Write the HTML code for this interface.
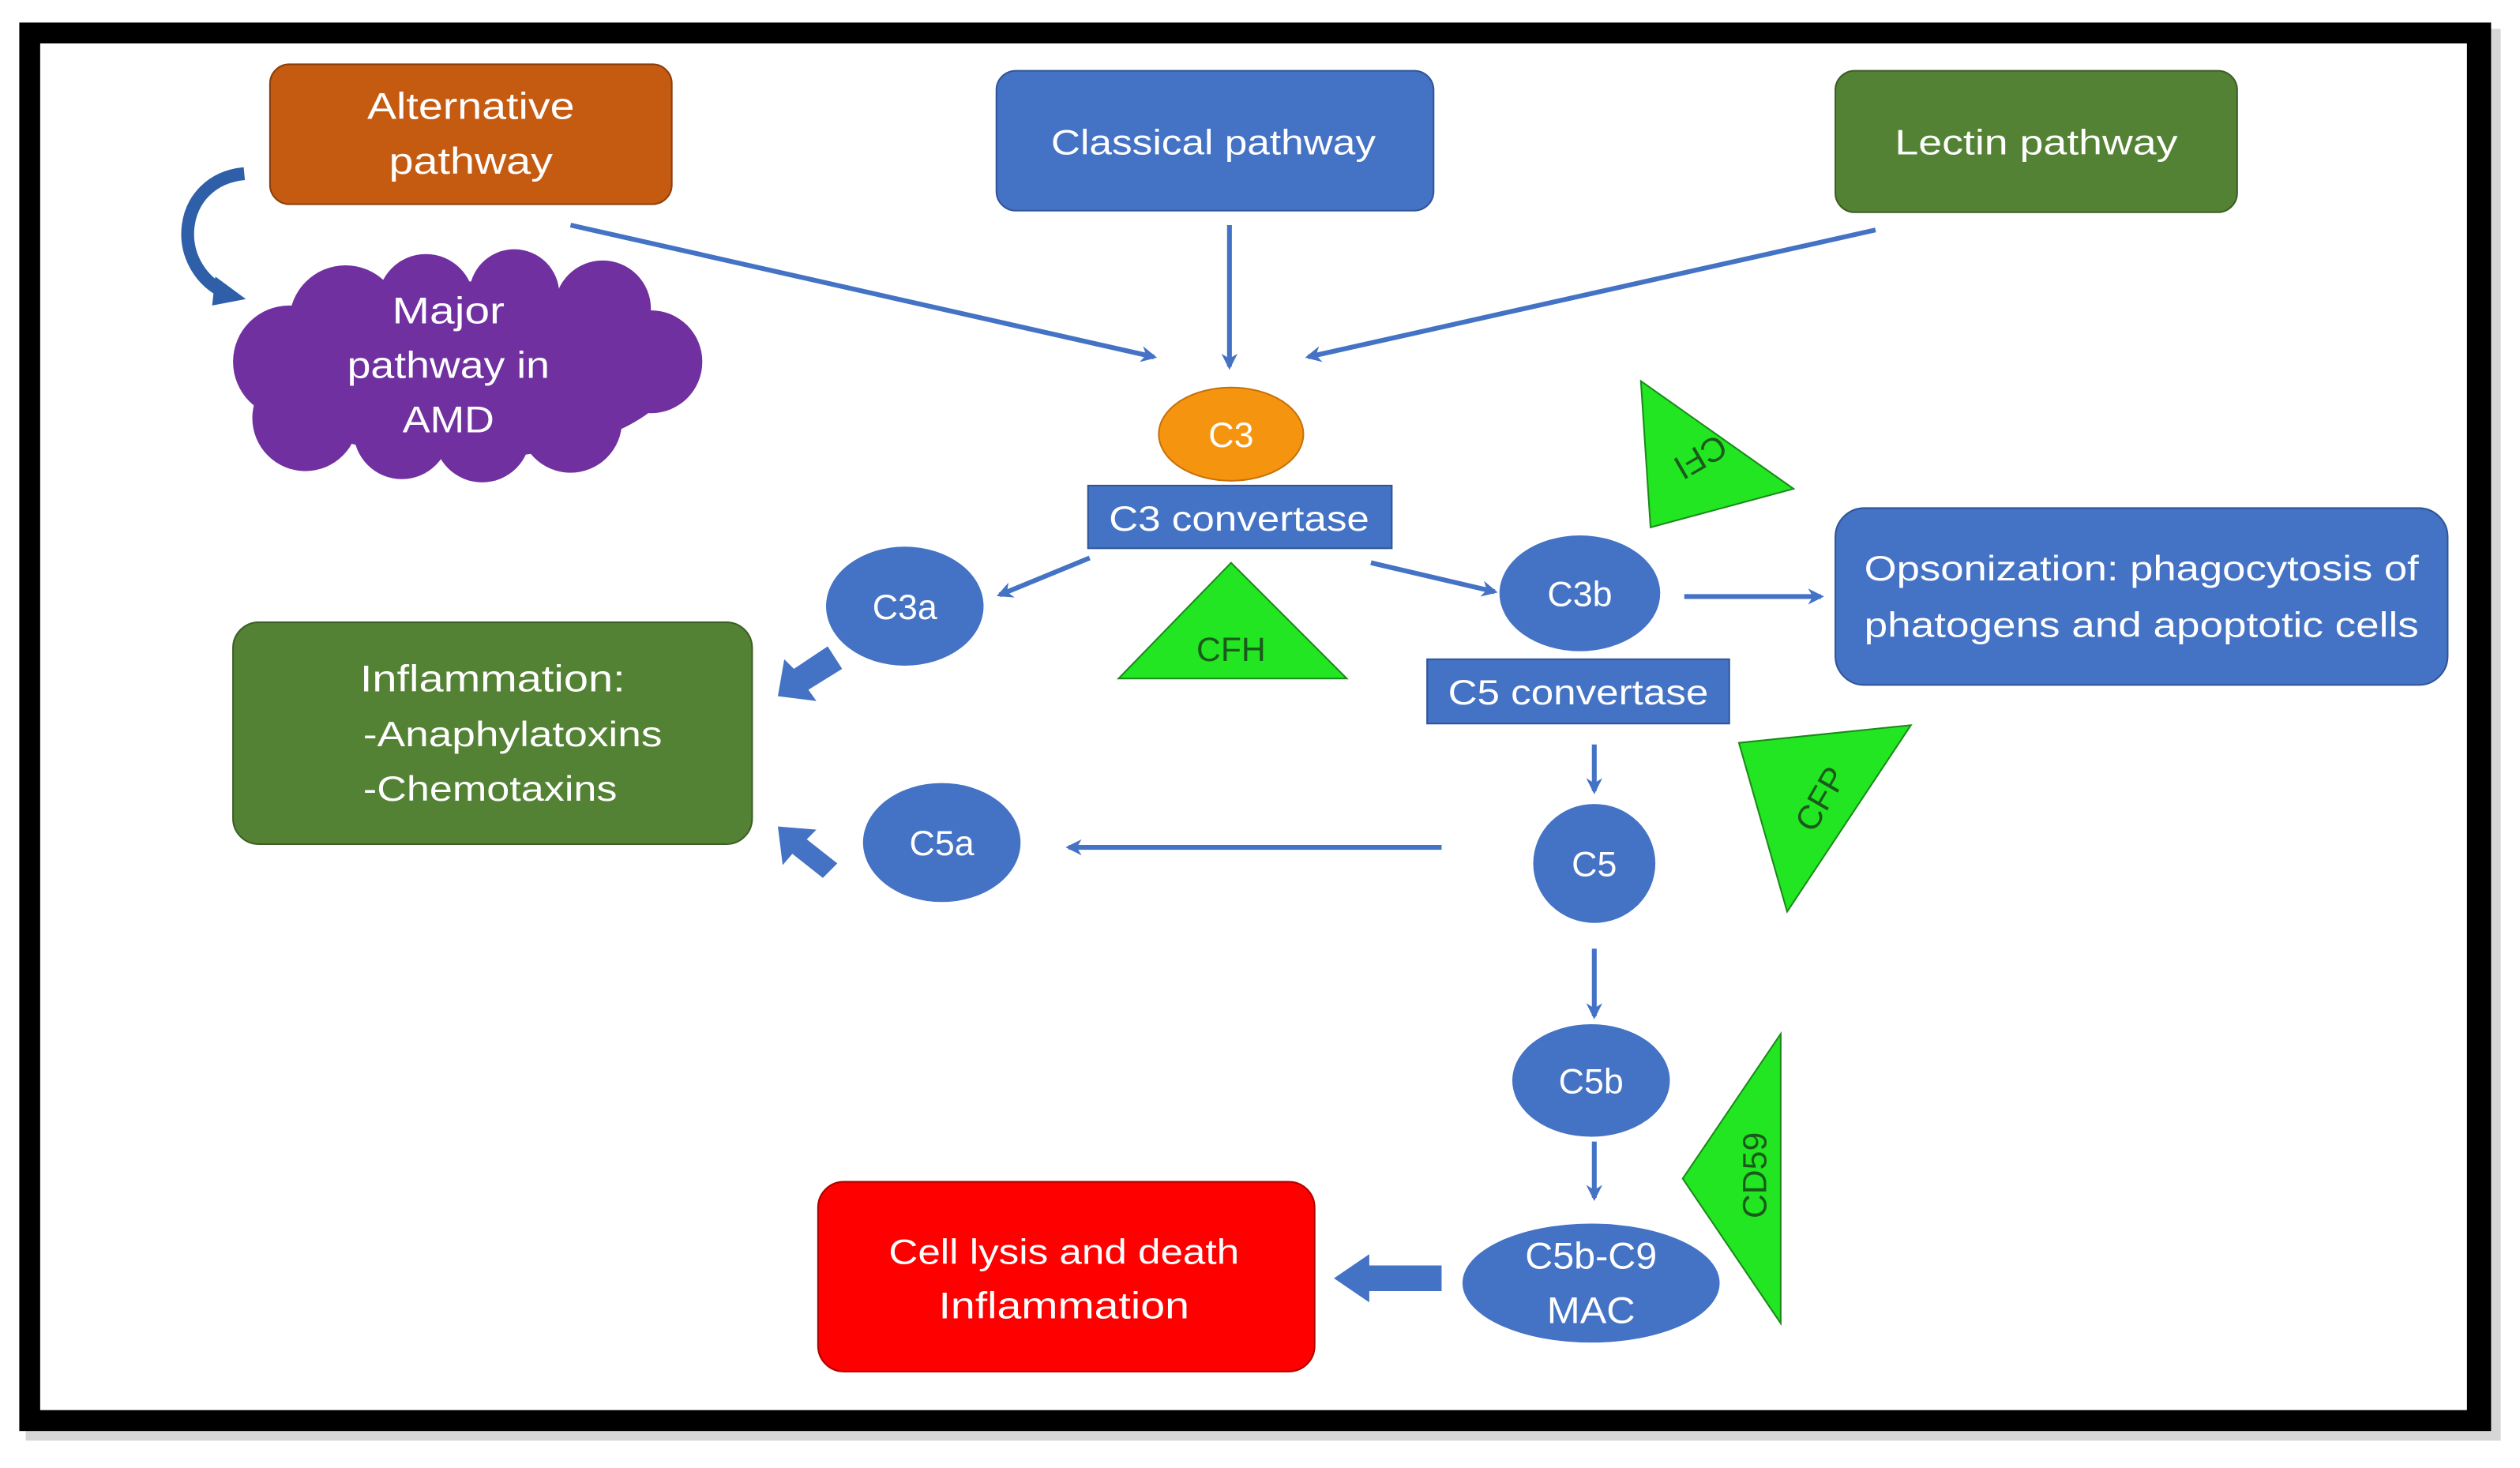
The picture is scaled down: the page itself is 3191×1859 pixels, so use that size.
<!DOCTYPE html>
<html><head><meta charset="utf-8"><style>
html,body{margin:0;padding:0;background:#fff;}
svg{display:block;}
text{font-family:"Liberation Sans",sans-serif;}
</style></head><body>
<svg width="3191" height="1859" viewBox="0 0 1568 913" preserveAspectRatio="none" xmlns="http://www.w3.org/2000/svg">
<defs>
<marker id="ah" markerWidth="10" markerHeight="10" refX="8" refY="5" orient="auto" markerUnits="userSpaceOnUse">
<path d="M0,0 L10,5 L0,10 L3,5 Z" fill="#4472C4"/></marker>
</defs>
<rect x="0" y="0" width="1568" height="913" fill="#fff"/>
<rect x="16" y="18" width="1540" height="878" fill="#bbb" opacity="0.6"/>
<rect x="12" y="14" width="1538" height="876" fill="#000"/>
<rect x="25" y="27" width="1510" height="850" fill="#fff"/>

<rect x="168" y="40" width="250" height="87" rx="12" fill="#C55A11" stroke="#8a3f0c" stroke-width="1"/>
<text x="293" y="74" font-size="23" fill="#fff" text-anchor="middle" textLength="129" lengthAdjust="spacingAndGlyphs">Alternative</text>
<text x="293" y="108" font-size="23" fill="#fff" text-anchor="middle" textLength="102" lengthAdjust="spacingAndGlyphs">pathway</text>
<rect x="620" y="44" width="272" height="87" rx="12" fill="#4472C4" stroke="#2f5597" stroke-width="1"/>
<text x="755" y="96" font-size="22" fill="#fff" text-anchor="middle" textLength="202" lengthAdjust="spacingAndGlyphs">Classical pathway</text>
<rect x="1142" y="44" width="250" height="88" rx="12" fill="#548235" stroke="#3b5e25" stroke-width="1"/>
<text x="1267" y="96" font-size="22" fill="#fff" text-anchor="middle" textLength="176" lengthAdjust="spacingAndGlyphs">Lectin pathway</text>

<g fill="#7030A0">
<ellipse cx="290" cy="230" rx="130" ry="55"/>
<circle cx="215" cy="200" r="35"/><circle cx="265" cy="188" r="30"/><circle cx="320" cy="183" r="28"/><circle cx="375" cy="192" r="30"/>
<circle cx="405" cy="225" r="32"/><circle cx="180" cy="225" r="35"/><circle cx="190" cy="260" r="33"/>
<circle cx="250" cy="268" r="30"/><circle cx="300" cy="270" r="30"/><circle cx="355" cy="262" r="32"/>
</g>
<text x="279" y="201" font-size="23" fill="#fff" text-anchor="middle" textLength="70" lengthAdjust="spacingAndGlyphs">Major</text>
<text x="279" y="235" font-size="23" fill="#fff" text-anchor="middle" textLength="126" lengthAdjust="spacingAndGlyphs">pathway in</text>
<text x="279" y="269" font-size="23" fill="#fff" text-anchor="middle" textLength="57" lengthAdjust="spacingAndGlyphs">AMD</text>
<path d="M152,108 C110,112 105,165 140,182" fill="none" stroke="#2f5fa8" stroke-width="8"/>
<path d="M134,172 L153,186 L132,190 Z" fill="#2f5fa8"/>

<g stroke="#4472C4" stroke-width="3" fill="none" marker-end="url(#ah)">
<line x1="355" y1="140" x2="718" y2="222"/>
<line x1="765" y1="140" x2="765" y2="228"/>
<line x1="1167" y1="143" x2="814" y2="222"/>
<line x1="678" y1="347" x2="622" y2="370"/>
<line x1="853" y1="350" x2="930" y2="368"/>
<line x1="1048" y1="371" x2="1133" y2="371"/>
<line x1="897" y1="527" x2="665" y2="527"/>
<line x1="992" y1="463" x2="992" y2="492"/>
<line x1="992" y1="590" x2="992" y2="632"/>
<line x1="992" y1="710" x2="992" y2="745"/>
</g>

<ellipse cx="766" cy="270" rx="45" ry="29" fill="#F5950F" stroke="#c8700a" stroke-width="1"/>
<text x="766" y="278" font-size="22" fill="#fff" text-anchor="middle">C3</text>
<rect x="677" y="302" width="189" height="39" fill="#4472C4" stroke="#2f5597" stroke-width="1"/>
<text x="771" y="330" font-size="22" fill="#fff" text-anchor="middle" textLength="162" lengthAdjust="spacingAndGlyphs">C3 convertase</text>

<polygon points="696,422 838,422 766,350" fill="#22E622" stroke="#1a8a1a" stroke-width="1"/>
<text x="766" y="411" font-size="21" fill="#1a5a1a" text-anchor="middle">CFH</text>

<ellipse cx="563" cy="377" rx="49" ry="37" fill="#4472C4"/>
<text x="563" y="385" font-size="22" fill="#fff" text-anchor="middle">C3a</text>
<ellipse cx="983" cy="369" rx="50" ry="36" fill="#4472C4"/>
<text x="983" y="377" font-size="22" fill="#fff" text-anchor="middle">C3b</text>

<rect x="1142" y="316" width="381" height="110" rx="18" fill="#4472C4" stroke="#2f5597" stroke-width="1"/>
<text x="1160" y="361" font-size="22" fill="#fff" textLength="345" lengthAdjust="spacingAndGlyphs">Opsonization: phagocytosis of</text>
<text x="1160" y="396" font-size="22" fill="#fff" textLength="345" lengthAdjust="spacingAndGlyphs">phatogens and apoptotic cells</text>

<polygon points="1021,237 1116,304 1027,328" fill="#22E622" stroke="#1a8a1a" stroke-width="1"/>
<text transform="translate(1058,284) rotate(150)" font-size="21" fill="#1a5a1a" text-anchor="middle" dy="7">CFI</text>

<rect x="888" y="410" width="188" height="40" fill="#4472C4" stroke="#2f5597" stroke-width="1"/>
<text x="982" y="438" font-size="22" fill="#fff" text-anchor="middle" textLength="162" lengthAdjust="spacingAndGlyphs">C5 convertase</text>

<rect x="145" y="387" width="323" height="138" rx="16" fill="#548235" stroke="#3b5e25" stroke-width="1"/>
<text x="224" y="430" font-size="23" fill="#fff" textLength="165" lengthAdjust="spacingAndGlyphs">Inflammation:</text>
<text x="226" y="464" font-size="22" fill="#fff" textLength="186" lengthAdjust="spacingAndGlyphs">-Anaphylatoxins</text>
<text x="226" y="498" font-size="22" fill="#fff" textLength="158" lengthAdjust="spacingAndGlyphs">-Chemotaxins</text>

<path d="M484,433 L488,410 L494,416 L515,402 L524,416 L503,429 L508,436 Z" fill="#4472C4"/>
<path d="M484,514 L508,516 L502,522 L521,537 L512,546 L493,531 L487,538 Z" fill="#4472C4"/>

<ellipse cx="586" cy="524" rx="49" ry="37" fill="#4472C4"/>
<text x="586" y="532" font-size="22" fill="#fff" text-anchor="middle">C5a</text>

<ellipse cx="992" cy="537" rx="38" ry="37" fill="#4472C4"/>
<text x="992" y="545" font-size="22" fill="#fff" text-anchor="middle">C5</text>

<polygon points="1082,462 1189,451 1112,567" fill="#22E622" stroke="#1a8a1a" stroke-width="1"/>
<text transform="translate(1133,497) rotate(-60)" font-size="21" fill="#1a5a1a" text-anchor="middle" dy="7">CFP</text>

<ellipse cx="990" cy="672" rx="49" ry="35" fill="#4472C4"/>
<text x="990" y="680" font-size="22" fill="#fff" text-anchor="middle">C5b</text>

<polygon points="1108,643 1047,733 1108,823" fill="#22E622" stroke="#1a8a1a" stroke-width="1"/>
<text transform="translate(1092,731) rotate(-90)" font-size="21" fill="#1a5a1a" text-anchor="middle" dy="7">CD59</text>

<ellipse cx="990" cy="798" rx="80" ry="37" fill="#4472C4"/>
<text x="990" y="789" font-size="23" fill="#fff" text-anchor="middle" textLength="82" lengthAdjust="spacingAndGlyphs">C5b-C9</text>
<text x="990" y="823" font-size="23" fill="#fff" text-anchor="middle" textLength="55" lengthAdjust="spacingAndGlyphs">MAC</text>

<path d="M830,795 L852,780 L852,787 L897,787 L897,803 L852,803 L852,810 Z" fill="#4472C4"/>

<rect x="509" y="735" width="309" height="118" rx="16" fill="#FF0000" stroke="#b00000" stroke-width="1"/>
<text x="662" y="786" font-size="22" fill="#fff" text-anchor="middle" textLength="218" lengthAdjust="spacingAndGlyphs">Cell lysis and death</text>
<text x="662" y="820" font-size="23" fill="#fff" text-anchor="middle" textLength="156" lengthAdjust="spacingAndGlyphs">Inflammation</text>
</svg>
</body></html>
